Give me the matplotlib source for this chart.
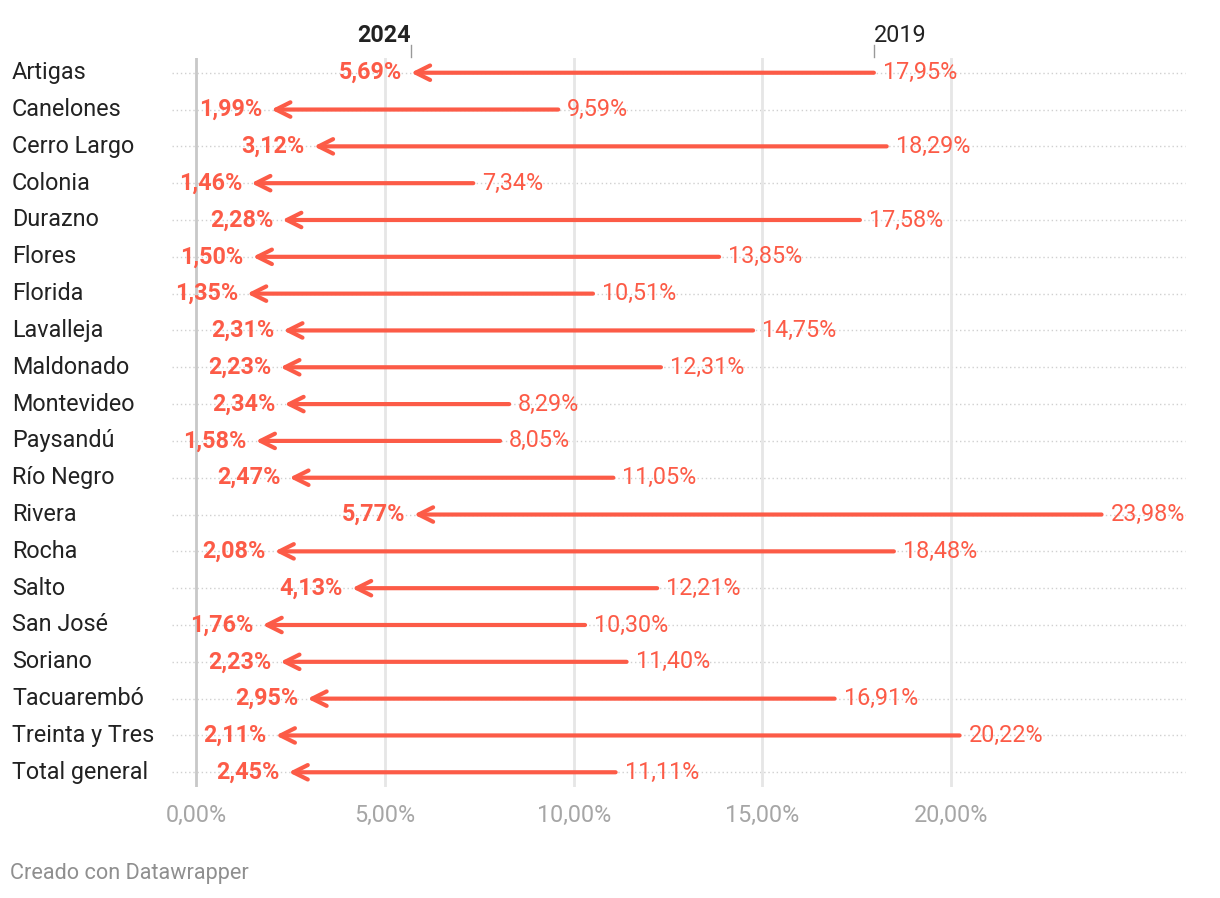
import matplotlib

matplotlib.use("Agg")
import matplotlib.pyplot as plt

plt.rcParams["font.family"] = ["Roboto", "DejaVu Sans"]

# Datos: desempleo por departamento, 2019 vs 2024
departamentos = [
    "Artigas", "Canelones", "Cerro Largo", "Colonia", "Durazno", "Flores",
    "Florida", "Lavalleja", "Maldonado", "Montevideo", "Paysandú", "Río Negro",
    "Rivera", "Rocha", "Salto", "San José", "Soriano", "Tacuarembó",
    "Treinta y Tres", "Total general",
]
v2024 = [5.69, 1.99, 3.12, 1.46, 2.28, 1.50, 1.35, 2.31, 2.23, 2.34,
         1.58, 2.47, 5.77, 2.08, 4.13, 1.76, 2.23, 2.95, 2.11, 2.45]
v2019 = [17.95, 9.59, 18.29, 7.34, 17.58, 13.85, 10.51, 14.75, 12.31, 8.29,
         8.05, 11.05, 23.98, 18.48, 12.21, 10.30, 11.40, 16.91, 20.22, 11.11]
xticks = [0, 5, 10, 15, 20]

ROJO = "#fc5b47"
FS = 16.8


def pct(v):
    return f"{v:.2f}".replace(".", ",") + "%"


fig = plt.figure(figsize=(12.2, 8.98), dpi=100)
ax = fig.add_axes([172 / 1220, 1 - 787 / 898, (1188 - 172) / 1220, (787 - 58) / 898])
ax.set_xlim(-0.64, 26.27)
ax.set_ylim(len(departamentos) - 0.6, -0.4)

for x in xticks:
    ax.axvline(x, color="#c8c8c8" if x == 0 else "#e6e6e6", lw=2, zorder=1)

fila = matplotlib.transforms.blended_transform_factory(fig.transFigure, ax.transData)
for i, (nombre, a, b) in enumerate(zip(departamentos, v2024, v2019)):
    ax.plot([-0.64, 26.2], [i, i], color="#d0d0d0", lw=1, ls=(0, (1, 2)), zorder=0)
    ax.annotate(
        "", xy=(a, i), xytext=(b, i),
        arrowprops=dict(arrowstyle="->", lw=3, color=ROJO, shrinkA=0, shrinkB=0,
                        mutation_scale=26, capstyle="round"),
        zorder=3,
    )
    ax.annotate(pct(a), (a, i), xytext=(-9, 0), textcoords="offset pixels",
                ha="right", va="center", color=ROJO, fontsize=FS, fontweight="bold")
    ax.annotate(pct(b), (b, i), xytext=(9, 0), textcoords="offset pixels",
                ha="left", va="center", color=ROJO, fontsize=FS)
    fig.text(12 / 1220, i, nombre, fontsize=FS, color="#222222", va="center",
             transform=fila)

# cabecera con los años
ax.plot([v2024[0]] * 2, [-0.76, -0.43], color="#999999", lw=1, clip_on=False)
ax.plot([v2019[0]] * 2, [-0.76, -0.43], color="#999999", lw=1, clip_on=False)
ax.text(v2024[0], -0.83, "2024", ha="right", va="baseline", fontsize=FS,
        fontweight="bold", color="#222222")
ax.text(v2019[0], -0.83, "2019", ha="left", va="baseline", fontsize=FS,
        color="#222222")

ax.set_xticks(xticks)
ax.set_xticklabels([pct(x) for x in xticks], fontsize=FS, color="#a6a6a6")
ax.tick_params(axis="x", length=0, pad=12)
ax.set_yticks([])
for s in ax.spines.values():
    s.set_visible(False)

fig.text(10 / 1220, 1 - 874 / 898, "Creado con Datawrapper", fontsize=15.6,
         color="#8f8f8f", va="center")

fig.savefig("out.png", dpi=100)
